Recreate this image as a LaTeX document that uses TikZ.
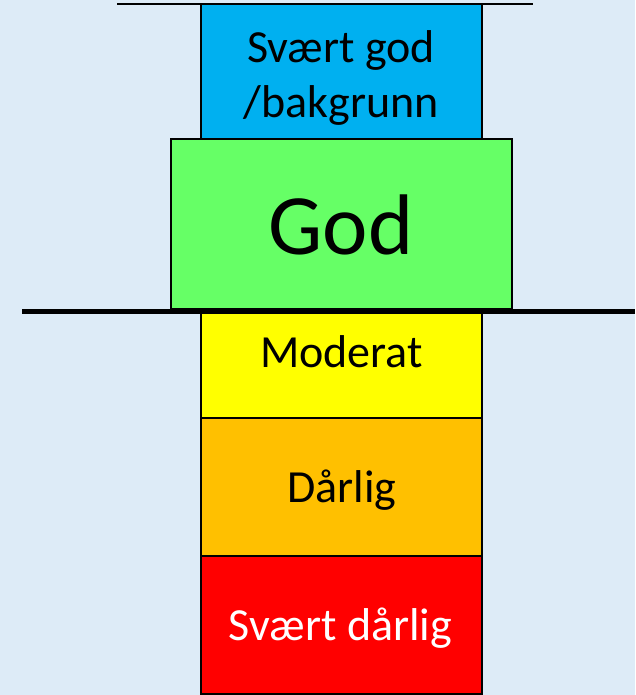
\documentclass[tikz,border=0pt]{standalone}
\usepackage{fontspec}
\setmainfont{Carlito}
\usetikzlibrary{positioning}
\definecolor{pale}{HTML}{DDEBF7}
\definecolor{vgoodc}{HTML}{00B0F0}
\definecolor{goodc}{HTML}{66FF66}
\definecolor{modc}{HTML}{FFFF00}
\definecolor{poorc}{HTML}{FFC000}
\definecolor{vpoorc}{HTML}{FF0000}

\begin{document}
\begin{tikzpicture}[
x=1pt,y=-1pt,
node distance=0pt,
lvl/.style={draw=black,line width=2.5pt,outer sep=0pt,inner sep=0pt,minimum width=281pt},
lbl/.style={font=\fontsize{46}{55}\selectfont,align=center,anchor=base},
thinrule/.style={line width=2.5pt},
thickrule/.style={line width=5pt}
]
\fill[pale] (0,0) rectangle (635,695);
\useasboundingbox (0,0) rectangle (635,695);

\node[lvl,fill=vgoodc,minimum height=135pt] (vgood) at (341.5,71.5) {};
\node[lvl,fill=goodc,minimum width=341pt,minimum height=170pt,below=of vgood] (good) {};
\node[lvl,fill=modc,minimum height=107pt,below=2pt of good] (mod) {};
\node[lvl,fill=poorc,minimum height=138pt,below=of mod] (poor) {};
\node[lvl,fill=vpoorc,minimum height=138pt,below=of poor] (vpoor) {};

\coordinate (topL) at (117,4);\coordinate (topR) at (533,4);
\coordinate (sepL) at (22,311);\coordinate (sepR) at (635,311);
\draw[thinrule] (topL)--(topR);
\draw[thickrule] (sepL)--(sepR);

\node[lbl] (vgoodtxt) at (341,118) {Svært god\\/bakgrunn};
\node[lbl,font=\fontsize{86}{100}\selectfont] (goodtxt) at (341,254) {God};
\node[lbl] (modtxt) at (341.5,367) {Moderat};
\node[lbl] (poortxt) at (342,502) {Dårlig};
\node[lbl,text=white] (vpoortxt) at (340.5,640) {Svært dårlig};
\end{tikzpicture}
\end{document}
